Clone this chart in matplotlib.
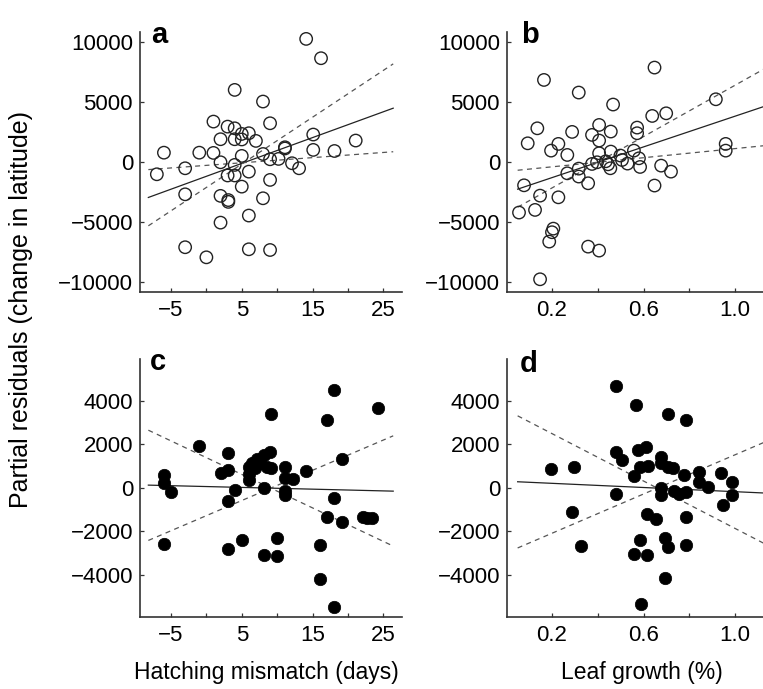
import numpy as np
import matplotlib
matplotlib.use('Agg')
import matplotlib.pyplot as plt
from matplotlib.ticker import FixedLocator

plt.rcParams['font.family'] = ['Liberation Sans', 'DejaVu Sans']

# panel a: hatching mismatch vs residuals (open circles)
a_x = [-7, -6, -3, -3, -3, -1, 0, 1, 1, 2, 2, 2, 2, 3, 3, 3.1, 3.1, 4, 4, 4, 4, 4,
       5, 5, 5, 5, 6, 6, 6, 6, 7, 8, 8, 8, 9, 9, 9, 9, 10.2, 11.1, 11.1, 12.1, 13.1,
       14.1, 15.1, 15.1, 16.2, 18.1, 21.1]
a_y = [-1000, 800, -500, -2670, -7080, 800, -7920, 3390, 780, 1920, 0, -2800, -5030,
       2970, -1100, -3150, -3300, 2830, 6030, 1920, -220, -1100, 2360, 1900, 530, -2030,
       2420, -780, -4440, -7250, 1780, 5060, 690, -3000, 3250, 250, -1470, -7310, 280,
       1250, 1150, -80, -500, 10280, 2310, 1030, 8670, 940, 1810]

# panel b: leaf growth vs residuals (open circles)
b_x = [0.056, 0.078, 0.094, 0.126, 0.136, 0.148, 0.148, 0.165, 0.196, 0.2, 0.206,
       0.188, 0.228, 0.228, 0.267, 0.267, 0.288, 0.317, 0.317, 0.317, 0.358, 0.358,
       0.375, 0.375, 0.397, 0.406, 0.406, 0.406, 0.406, 0.435, 0.445, 0.455, 0.457,
       0.457, 0.467, 0.499, 0.506, 0.530, 0.558, 0.572, 0.572, 0.58, 0.585, 0.638,
       0.648, 0.648, 0.677, 0.699, 0.72, 0.916, 0.959, 0.959]
b_y = [-4190, -1920, 1580, -3970, 2830, -2780, -9750, 6860, 970, -5830, -5530, -6610,
       1530, -2920, 610, -920, 2530, -1190, -530, 5810, -1750, -7030, 2280, -140, 0,
       3110, 1810, 750, -7360, 80, -170, -500, 2560, 890, 4810, 560, 190, -110, 970,
       2890, 2420, 330, -390, 3860, 7890, -1940, -280, 4080, -780, 5250, 1530, 970]

# panel c: hatching mismatch vs residuals (filled)
c_x = [-6, -6, -5, -6, -1, 2, 3, 3, 3, 3, 4, 5, 6, 6, 6, 6.5, 6.8, 7.1, 7.6, 8.1,
       8.5, 9, 9.1, 8.1, 8.1, 9.1, 10, 10, 11.1, 11.1, 11.1, 11.1, 12.2, 14.1, 16.1,
       16.1, 17.1, 17.1, 18.1, 18.1, 18.1, 19.2, 19.2, 22.1, 22.7, 23.4, 24.3]
c_y = [590, 230, -190, -2570, 1920, 660, 1590, 820, -620, -2800, -110, -2420, 970,
       630, 350, 1120, 890, 1310, 1120, 1510, 970, 1660, 890, -30, -3110, 3390, -2290,
       -3140, 970, 430, -140, -340, 390, 790, -2650, -4220, 3120, -1370, 4510, -490,
       -5490, 1320, -1570, -1340, -1390, -1390, 3660]

# panel d: leaf growth vs residuals (filled)
d_x = [0.196, 0.296, 0.286, 0.326, 0.478, 0.478, 0.478, 0.506, 0.558, 0.558, 0.568,
       0.575, 0.585, 0.585, 0.59, 0.612, 0.616, 0.616, 0.619, 0.655, 0.677, 0.677,
       0.677, 0.677, 0.696, 0.696, 0.706, 0.706, 0.706, 0.728, 0.735, 0.757, 0.778,
       0.786, 0.786, 0.786, 0.786, 0.841, 0.841, 0.88, 0.938, 0.949, 0.988, 0.988]
d_y = [850, 970, -1140, -2690, 4690, 1660, -290, 1280, 550, -3030, 3820, 1740, -2420,
       970, -5370, 1860, -3110, -1230, 1020, -1460, 1400, 1120, -30, -340, -2290,
       -4150, 3390, -2720, 970, 890, -140, -290, 590, 3120, -220, -1340, -2650, 740,
       280, 20, 690, -800, 280, -340]

# fitted slope (solid) and the two dashed limits, all through a pivot point
a_pivot = (5.3, -30)
a_slopes = [215, 43, 390]
b_pivot = (0.40, 0)
b_slopes = [6400, 1900, 10700]
c_pivot = (9.1, -20)
c_slopes = [-8, -154, 139]
d_pivot = (0.66, -20)
d_slopes = [-480, -5450, 4510]

days_range = [-8.2, 26.4]
leaf_range = [0.05, 1.13]

fig = plt.figure(figsize=(7.63, 6.89), dpi=100)
W, H = 763.0, 689.0

def make_ax(left, top, right, bottom):
    return fig.add_axes([left / W, 1 - bottom / H, (right - left) / W, (bottom - top) / H])

ax_a = make_ax(140, 31.7, 401.7, 292)
ax_b = make_ax(507, 31.7, 763, 292)
ax_c = make_ax(140, 359, 401.7, 617)
ax_d = make_ax(507, 359, 763, 617)

panels = [
    (ax_a, a_x, a_y, a_pivot, a_slopes, days_range, False),
    (ax_b, b_x, b_y, b_pivot, b_slopes, leaf_range, False),
    (ax_c, c_x, c_y, c_pivot, c_slopes, days_range, True),
    (ax_d, d_x, d_y, d_pivot, d_slopes, leaf_range, True),
]

for ax, xs, ys, pivot, slopes, xr, filled in panels:
    if filled:
        ax.scatter(xs, ys, s=80, color='black', edgecolor='black', linewidth=0.5, zorder=3)
    else:
        ax.scatter(xs, ys, s=80, facecolor='none', edgecolor='#222222', linewidth=1.0, zorder=3)
    xl = np.array(xr)
    for i, s in enumerate(slopes):
        yl = pivot[1] + s * (xl - pivot[0])
        if i == 0:
            ax.plot(xl, yl, color='#222222', lw=0.9, zorder=2)
        else:
            ax.plot(xl, yl, color='#555555', lw=0.9, ls=(0, (4, 3.5)), zorder=2)
    for side in ['top', 'right']:
        ax.spines[side].set_visible(False)
    for side in ['left', 'bottom']:
        ax.spines[side].set_linewidth(1.2)
        ax.spines[side].set_color('#333333')
    ax.tick_params(which='both', direction='in', length=3, width=0.9, color='#333333',
                   labelsize=16)
    ax.tick_params(axis='x', pad=6)
    ax.tick_params(axis='y', pad=5)

for ax in [ax_a, ax_c]:
    ax.set_xlim(-9.38, 27.6)
    ax.set_xticks([-5, 5, 15, 25])
    ax.set_xticklabels(['\u22125', '5', '15', '25'])
    ax.xaxis.set_minor_locator(FixedLocator([0, 10, 20]))
for ax in [ax_b, ax_d]:
    ax.set_xlim(0.0035, 1.122)
    ax.set_xticks([0.2, 0.6, 1.0])
    ax.set_xticklabels(['0.2', '0.6', '1.0'])
    ax.xaxis.set_minor_locator(FixedLocator([0.4, 0.8]))
for ax in [ax_a, ax_b]:
    ax.set_ylim(-10810, 10880)
    ax.set_yticks([-10000, -5000, 0, 5000, 10000])
    ax.set_yticklabels(['\u221210000', '\u22125000', '0', '5000', '10000'])
for ax in [ax_c, ax_d]:
    ax.set_ylim(-5945, 5917)
    ax.set_yticks([-4000, -2000, 0, 2000, 4000])
    ax.set_yticklabels(['\u22124000', '\u22122000', '0', '2000', '4000'])

# panel letters
for lab, px, py in [('a', 151, 43), ('b', 521, 43), ('c', 150, 370), ('d', 520, 372)]:
    fig.text(px / W, 1 - py / H, lab, fontsize=21, fontweight='bold', va='baseline', ha='left')

fig.text(21 / W, 1 - 309 / H, 'Partial residuals (change in latitude)', rotation=90,
         fontsize=18, ha='center', va='center')
fig.text(266.5 / W, 1 - 672 / H, 'Hatching mismatch (days)', fontsize=16.5, ha='center', va='center')
fig.text(641.7 / W, 1 - 672 / H, 'Leaf growth (%)', fontsize=16.5, ha='center', va='center')

fig.savefig('out.png', dpi=100)
